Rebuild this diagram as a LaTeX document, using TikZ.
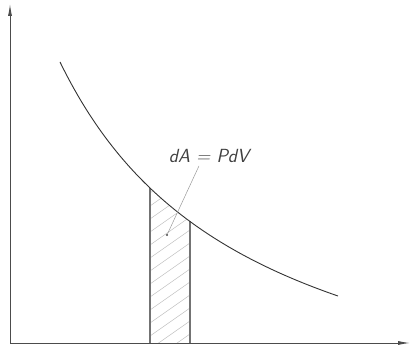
\documentclass[tikz,border=0pt]{standalone}
\usepackage{tikz}
\usetikzlibrary{arrows.meta, positioning, calc}
\tikzstyle{axis} = [line width=0.9pt, draw=black!70, -{Latex[length=12pt, width=4pt]}]
\tikzstyle{curve} = [line width=0.9pt, draw=black!80]
\tikzstyle{strip} = [line width=1.1pt, draw=black!55]
\tikzstyle{hatch} = [line width=0.5pt, draw=black!25]
\tikzstyle{leader} = [line width=0.5pt, draw=black!40]
\tikzstyle{label} = [font=\sffamily\itshape\fontsize{19}{22}\selectfont, text=black!75, inner sep=1pt]

\begin{document}
\begin{tikzpicture}[x=1pt, y=1pt]
\useasboundingbox (-10,-9) rectangle (400,343);

% Axes
\coordinate (origin) at (0,0);
\coordinate (ytip) at (0,339);
\coordinate (xtip) at (400,0);
\draw [axis] (origin) -- (ytip);
\draw [axis] (origin) -- (xtip);

% Hatched strip under the curve
\begin{scope}
  \clip (140,0) -- plot[domain=140:180, samples=20] (\x, {768/((\x+143.5)/100)-115.9}) -- (180,0) -- cycle;
  \foreach \k in {-52,-39,...,200}
    \draw [hatch] (130,\k) -- (190,\k+42);
\end{scope}
\coordinate (stripa) at (140,0);
\coordinate (stripb) at (180,0);
\draw [strip] (stripa) -- (140,155.0);
\draw [strip] (stripb) -- (180,121.5);

% Curve P(V)
\draw [curve] plot[domain=50:328, samples=80] (\x, {768/((\x+143.5)/100)-115.9});

% Label with leader
\node (dA) [label] at (199,187) {dA\,\,=\,\,PdV};
\coordinate (spot) at (157,108);
\draw [leader] ($(dA.south)+(-10,-2)$) -- (spot);
\fill [black!70] (spot) circle (1.2pt);

\end{tikzpicture}
\end{document}
